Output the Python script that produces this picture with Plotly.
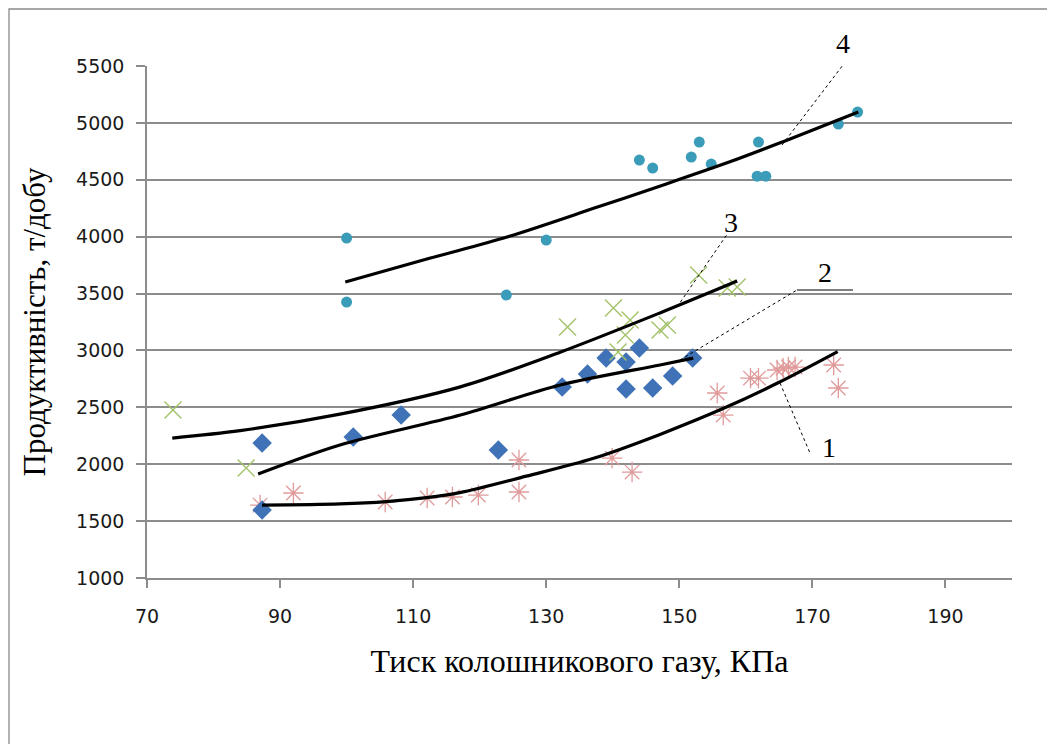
import plotly.graph_objects as go

# ---- data ----
# Series 1 (asterisks)
x1 = [87, 92, 105.8, 112.1, 115.9, 119.8, 125.9, 125.9, 139.9, 142.9, 155.7, 156.6,
      160.7, 161.9, 164.7, 165.6, 166.4, 167.4, 173.2, 173.9]
y1 = [1641, 1747, 1668, 1703, 1712, 1729, 2037, 1756, 2054, 1931, 2626, 2432,
      2757, 2757, 2828, 2845, 2854, 2854, 2872, 2670]
# Series 2 (diamonds)
x2 = [87.3, 87.3, 101, 108.2, 122.8, 132.4, 136.2, 139, 142, 144, 142, 146, 149, 152]
y2 = [1598, 2186, 2239, 2432, 2125, 2678, 2793, 2933, 2898, 3021, 2661, 2670, 2775, 2933]
# Series 3 (x marks)
x3 = [73.9, 84.9, 133.2, 140.1, 142.6, 141.9, 140.8, 147.1, 148.2, 152.9, 157.2, 158.7]
y3 = [2476, 1967, 3206, 3373, 3267, 3135, 2986, 3179, 3223, 3663, 3548, 3557]
# Series 4 (circles)
x4 = [100, 100, 130, 124, 144, 146, 151.8, 153, 154.8, 161.9, 161.7, 163, 173.9, 176.8]
y4 = [3988, 3425, 3970, 3487, 4673, 4603, 4700, 4831, 4638, 4831, 4532, 4532, 4990, 5095]

# Trend lines
t1x = [87.3, 99, 106, 112, 117, 127, 137, 147, 157, 165, 173.8]
t1y = [1641, 1652, 1672, 1706, 1750, 1895, 2050, 2260, 2500, 2720, 2990]
t2x = [86.7, 99, 117.1, 132.1, 147.1, 152.1]
t2y = [1914, 2169, 2432, 2696, 2872, 2933]
t3x = [73.8, 84, 99, 117.1, 132.1, 147.1, 158.7]
t3y = [2230, 2295, 2440, 2680, 2985, 3330, 3610]
t4x = [99.8, 112.6, 124.1, 137.7, 147.6, 157.7, 165.6, 176.9]
t4y = [3601, 3812, 3997, 4260, 4455, 4660, 4835, 5095]

x_ticks = [70, 90, 110, 130, 150, 170, 190]
y_ticks = [1000, 1500, 2000, 2500, 3000, 3500, 4000, 4500, 5000, 5500]

x_title = "Тиск колошникового газу, КПа"
y_title = "Продуктивність, т/добу"
curve_labels = ["1", "2", "3", "4"]

fig = go.Figure()

fig.add_trace(go.Scatter(x=x1, y=y1, mode="markers", name="1",
                         marker=dict(symbol="asterisk-open", size=17, color="#E09A9A",
                                     line=dict(color="#E09A9A", width=1.3))))
fig.add_trace(go.Scatter(x=x2, y=y2, mode="markers", name="2",
                         marker=dict(symbol="diamond", size=15, color="#3F72B6",
                                     line=dict(width=0))))
fig.add_trace(go.Scatter(x=x3, y=y3, mode="markers", name="3",
                         marker=dict(symbol="x-thin-open", size=17, color="#A3C26A",
                                     line=dict(color="#A3C26A", width=1.4))))
fig.add_trace(go.Scatter(x=x4, y=y4, mode="markers", name="4",
                         marker=dict(symbol="circle", size=11, color="#3A9CB8",
                                     line=dict(width=0))))

for tx, ty in [(t1x, t1y), (t2x, t2y), (t3x, t3y), (t4x, t4y)]:
    fig.add_trace(go.Scatter(x=tx, y=ty, mode="lines",
                             line=dict(color="black", width=3.2, shape="spline", smoothing=0.9),
                             hoverinfo="skip"))

OFF = 8  # page body margin
W, H = 1047, 736
L, T = 147 - OFF, 66 - OFF
PW, PH = 865, 512
R, B = W - L - PW, H - T - PH


def px(x):
    return (x - OFF - L) / PW


def py(y):
    return (H - B - (y - OFF)) / PH


shapes = []
# outer chart border
shapes.append(dict(type="rect", xref="paper", yref="paper",
                   x0=px(9), y0=py(9), x1=px(1080), y1=py(780),
                   line=dict(color="#8a8a8a", width=1.3), fillcolor="rgba(0,0,0,0)",
                   layer="below"))
lead = dict(color="black", width=1, dash="dot")
# leader lines
shapes.append(dict(type="line", xref="paper", yref="paper",
                   x0=px(782), y0=py(145), x1=px(843), y1=py(65), line=lead))
shapes.append(dict(type="line", xref="paper", yref="paper",
                   x0=px(677), y0=py(307), x1=px(728), y1=py(233), line=lead))
shapes.append(dict(type="line", xref="paper", yref="paper",
                   x0=px(680), y0=py(360), x1=px(797), y1=py(290), line=lead))
shapes.append(dict(type="line", xref="paper", yref="paper",
                   x0=px(797), y0=py(290), x1=px(853), y1=py(290),
                   line=dict(color="black", width=1)))
shapes.append(dict(type="line", xref="paper", yref="paper",
                   x0=px(780), y0=py(383), x1=px(810), y1=py(453), line=lead))

label_pos = [(829, 447), (825, 272), (731, 222), (843, 43)]
annotations = []
for lab, (lx, ly) in zip(curve_labels, label_pos):
    annotations.append(dict(text=lab, x=px(lx), y=py(ly), xref="paper", yref="paper",
                            xanchor="center", yanchor="middle", showarrow=False,
                            font=dict(family="Liberation Serif", size=28, color="black")))

fig.update_layout(
    width=W, height=H,
    margin=dict(l=L, r=R, t=T, b=B, pad=0),
    paper_bgcolor="white", plot_bgcolor="white",
    showlegend=False,
    shapes=shapes,
    annotations=annotations,
    xaxis=dict(range=[70, 200], tickvals=x_ticks, ticktext=[str(v) for v in x_ticks],
               showgrid=False, zeroline=False,
               showline=True, linecolor="#8c8c8c", linewidth=1.5,
               ticks="outside", ticklen=8, tickcolor="#8c8c8c", tickwidth=1.5,
               ticklabelstandoff=12,
               tickfont=dict(family="DejaVu Sans", size=19, color="#1a1a1a"),
               title=dict(text=x_title, standoff=24,
                          font=dict(family="Liberation Serif", size=32, color="black"))),
    yaxis=dict(range=[1000, 5500], tickvals=y_ticks, ticktext=[str(v) for v in y_ticks],
               showgrid=True, gridcolor="#8c8c8c", gridwidth=1.5, zeroline=False,
               showline=True, linecolor="#8c8c8c", linewidth=1.5,
               ticks="outside", ticklen=9, tickcolor="#8c8c8c", tickwidth=1.5,
               ticklabelstandoff=8,
               tickfont=dict(family="DejaVu Sans", size=19, color="#1a1a1a"),
               title=dict(text=y_title, standoff=21,
                          font=dict(family="Liberation Serif", size=31, color="black"))),
)

fig.write_html("out.html")
